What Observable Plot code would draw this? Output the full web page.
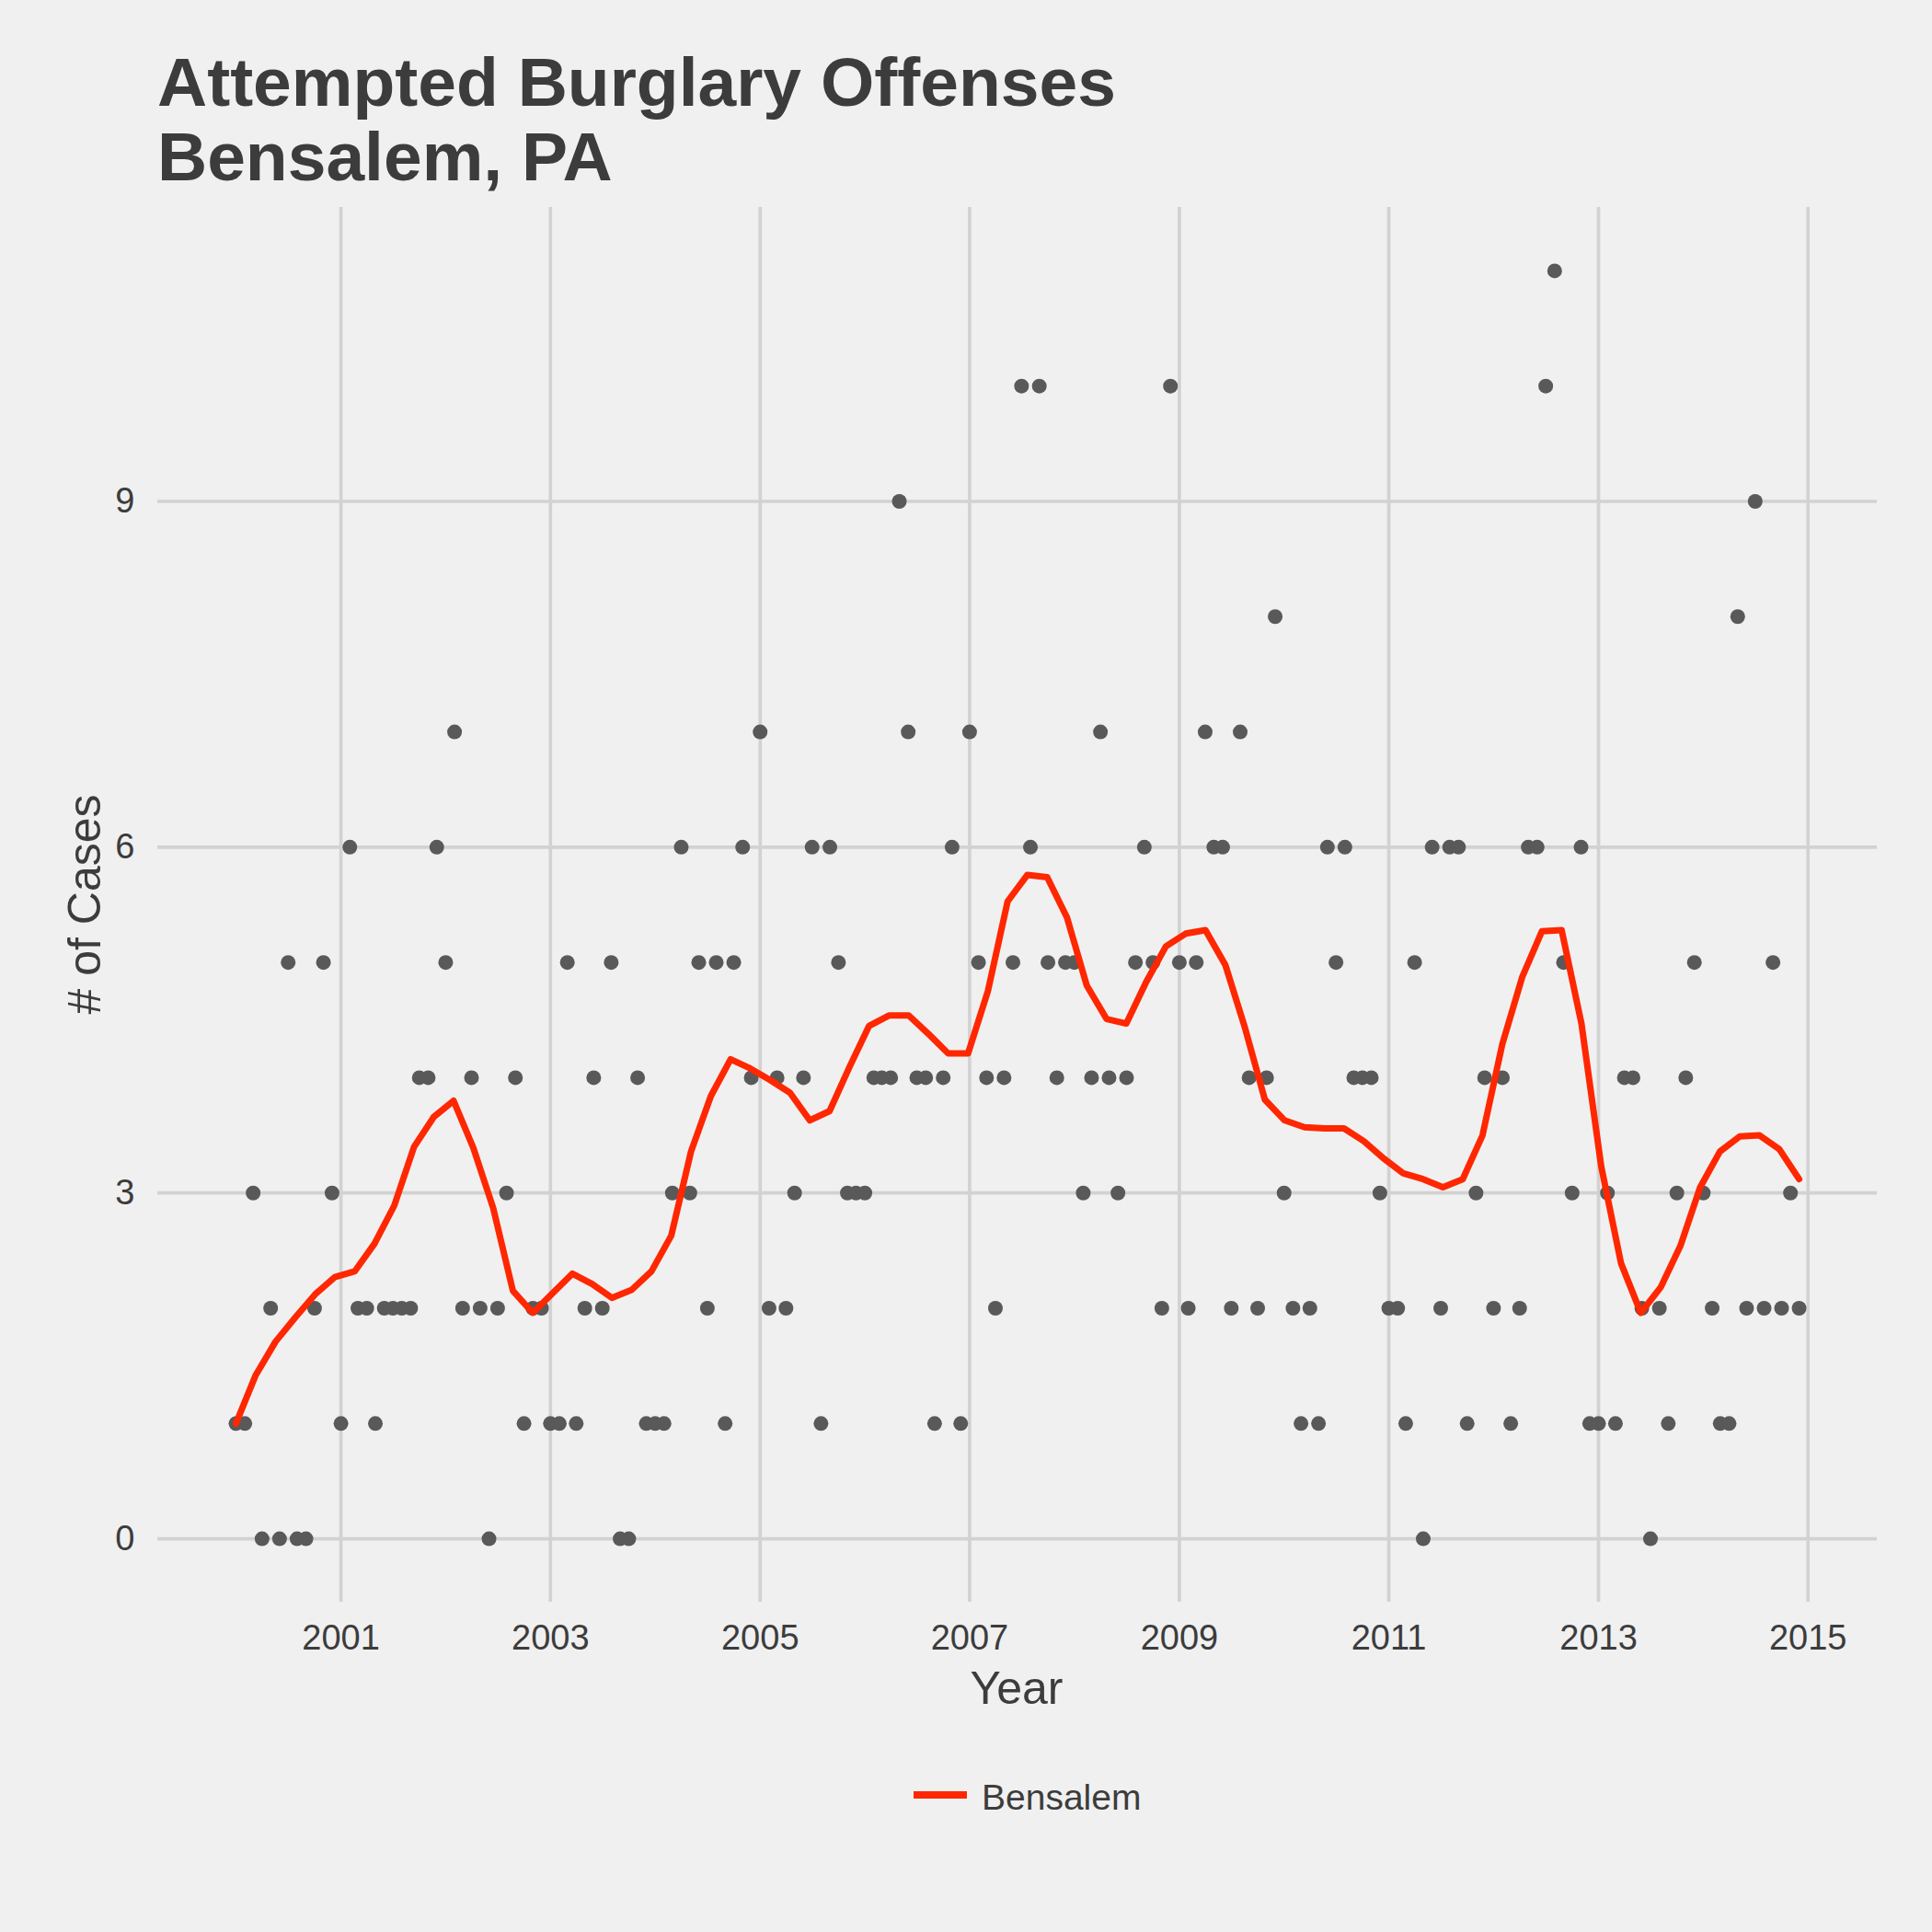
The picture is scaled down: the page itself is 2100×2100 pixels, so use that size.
<!DOCTYPE html>
<html>
<head>
<meta charset="utf-8">
<script src="https://cdn.jsdelivr.net/npm/d3@7"></script>
<script src="https://cdn.jsdelivr.net/npm/@observablehq/plot@0.6"></script>
<style>
  body { margin: 0; background: #F0F0F0; }
  #fig {
    position: relative; width: 2100px; height: 2100px; overflow: hidden;
    background: #F0F0F0; color: #3C3C3C;
    font-family: "Liberation Sans", Arial, sans-serif;
  }
  .t { position: absolute; line-height: 1; white-space: nowrap; }
  #plot { position: absolute; left: 0; top: 200px; }
</style>
</head>
<body>
<div id="fig">
  <div class="t" style="left:171px; top:52px; font-size:75px; font-weight:bold;">Attempted Burglary Offenses</div>
  <div class="t" style="left:171px; top:133px; font-size:75px; font-weight:bold;">Bensalem, PA</div>
  <div class="t" style="left:92px; top:983px; font-size:50px; transform: translate(-50%, -50%) rotate(-90deg);"># of Cases</div>
  <div class="t" style="left:1105px; top:1810px; font-size:50px; transform: translateX(-50%);">Year</div>
  <div class="t" style="left:993px; top:1947px; width:58px; height:8px; background:#FF2700;"></div>
  <div class="t" style="left:1067px; top:1934px; font-size:39px;">Bensalem</div>
  <div id="plot"></div>
</div>
<script>
// monthly counts, Jan 2000 .. Dec 2014 (12 per row)
const startYear = 2000
const cases = [
  1, 1, 3, 0, 2, 0, 5, 0, 0, 2, 5, 3,   // 2000
  1, 6, 2, 2, 1, 2, 2, 2, 2, 4, 4, 6,   // 2001
  5, 7, 2, 4, 2, 0, 2, 3, 4, 1, 2, 2,   // 2002
  1, 1, 5, 1, 2, 4, 2, 5, 0, 0, 4, 1,   // 2003
  1, 1, 3, 6, 3, 5, 2, 5, 1, 5, 6, 4,   // 2004
  7, 2, 4, 2, 3, 4, 6, 1, 6, 5, 3, 3,   // 2005
  3, 4, 4, 4, 9, 7, 4, 4, 1, 4, 6, 1,   // 2006
  7, 5, 4, 2, 4, 5, 10, 6, 10, 5, 4, 5, // 2007
  5, 3, 4, 7, 4, 3, 4, 5, 6, 5, 2, 10,  // 2008
  5, 2, 5, 7, 6, 6, 2, 7, 4, 2, 4, 8,   // 2009
  3, 2, 1, 2, 1, 6, 5, 6, 4, 4, 4, 3,   // 2010
  2, 2, 1, 5, 0, 6, 2, 6, 6, 1, 3, 4,   // 2011
  2, 4, 1, 2, 6, 6, 10, 11, 5, 3, 6, 1, // 2012
  1, 3, 1, 4, 4, 2, 0, 2, 1, 3, 4, 5,   // 2013
  3, 2, 1, 1, 8, 2, 9, 2, 5, 2, 3, 2    // 2014
]

const smoothBensalem = [
  1.00, 1.42, 1.71, 1.92, 2.12, 2.27, 2.32, 2.56, 2.89, 3.40,
  3.66, 3.80, 3.39, 2.87, 2.15, 1.96, 2.13, 2.30, 2.21, 2.09,
  2.16, 2.32, 2.63, 3.36, 3.84, 4.16, 4.08, 3.98, 3.87, 3.63,
  3.71, 4.09, 4.45, 4.54, 4.54, 4.38, 4.21, 4.21, 4.75, 5.53,
  5.76, 5.74, 5.39, 4.80, 4.51, 4.47, 4.83, 5.14, 5.25, 5.28,
  4.98, 4.43, 3.81, 3.63, 3.57, 3.56, 3.56, 3.45, 3.30, 3.17,
  3.12, 3.05, 3.12, 3.50, 4.29, 4.87, 5.27, 5.28, 4.47, 3.23,
  2.39, 1.96, 2.18, 2.54, 3.05, 3.36, 3.49, 3.50, 3.38, 3.12
]

const yTicks = [0, 3, 6, 9]
const xTickYears = [2001, 2003, 2005, 2007, 2009, 2011, 2013, 2015]

const monthly = cases.map((v, i) => ({date: new Date(Date.UTC(startYear, i, 1)), cases: v}))
const t0 = +monthly[0].date
const t1 = +monthly[monthly.length - 1].date
const smooth = smoothBensalem.map((v, k) => ({
  date: new Date(t0 + k * (t1 - t0) / (smoothBensalem.length - 1)),
  cases: v
}))
const xTicks = xTickYears.map(y => new Date(Date.UTC(y, 0, 1)))
const pad = 0.05 * (t1 - t0)

const gridStyle = {stroke: '#D2D2D2', strokeOpacity: 1, strokeWidth: 3.7}

const chart = Plot.plot({
  width: 2100,
  height: 1600,
  marginTop: 25,
  marginRight: 60,
  marginBottom: 59,
  marginLeft: 171,
  style: {
    background: 'transparent',
    color: '#3C3C3C',
    fontFamily: '"Liberation Sans", Arial, sans-serif',
    overflow: 'visible'
  },
  x: {type: 'utc', domain: [new Date(t0 - pad), new Date(t1 + pad)]},
  y: {domain: [-0.55, 11.55]},
  marks: [
    Plot.gridX(xTicks, gridStyle),
    Plot.gridY(yTicks, gridStyle),
    Plot.axisX(xTicks, {tickSize: 0, tickPadding: 25, fontSize: 38, tickFormat: d3.utcFormat('%Y'), label: null}),
    Plot.axisY(yTicks, {tickSize: 0, tickPadding: 25, fontSize: 38, tickFormat: d3.format('d'), label: null}),
    Plot.dot(monthly, {x: 'date', y: 'cases', r: 8, fill: '#595959'}),
    Plot.line(smooth, {x: 'date', y: 'cases', stroke: '#FF2700', strokeWidth: 7})
  ]
})

d3.select('#plot').append(() => chart)
</script>
</body>
</html>
